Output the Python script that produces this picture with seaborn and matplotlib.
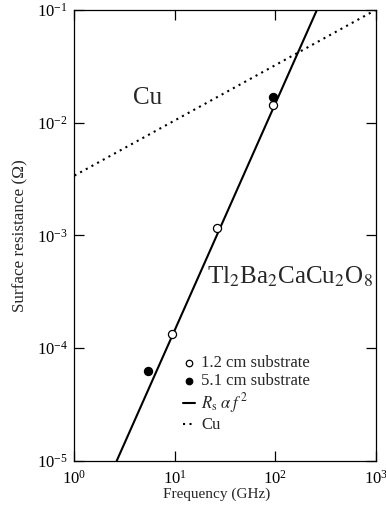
import numpy as np
import pandas as pd
import matplotlib
matplotlib.use("Agg")
import matplotlib.pyplot as plt
import seaborn as sns
from matplotlib.ticker import NullLocator

# ---- data ----
open_freq = [9.45, 26.5, 94.6]          # GHz, 1.2 cm substrate
open_rs = [1.33e-4, 1.17e-3, 1.43e-2]   # ohm
filled_freq = [5.37, 94.6]              # GHz, 5.1 cm substrate
filled_rs = [6.3e-5, 1.70e-2]
fit_freq = [2.63, 260.0]                # Rs ~ f^2 line end points
fit_rs = [1e-5, 1e-1]
cu_freq = [1.0, 1000.0]                 # Cu line end points
cu_rs = [3.4e-3, 0.1]

x_ticks = [1, 10, 100, 1000]
y_ticks = [1e-5, 1e-4, 1e-3, 1e-2, 1e-1]

sns.set_style("ticks")
plt.rcParams["font.family"] = ["Liberation Serif", "DejaVu Serif"]
plt.rcParams["mathtext.fontset"] = "stix"

fig = plt.figure(figsize=(3.86, 5.15), dpi=100)
ax = fig.add_axes([0.193, 0.1049, 0.780, 0.8757])

df_fit = pd.DataFrame({"f": fit_freq, "rs": fit_rs})
df_cu = pd.DataFrame({"f": cu_freq, "rs": cu_rs})
df_open = pd.DataFrame({"f": open_freq, "rs": open_rs})
df_filled = pd.DataFrame({"f": filled_freq, "rs": filled_rs})

fit_label = r"$R_{\mathrm{s}}\;\alpha\;f^{\,2}$"
sns.lineplot(data=df_fit, x="f", y="rs", ax=ax, color="black", lw=1.5,
             label=fit_label, zorder=2)
sns.lineplot(data=df_cu, x="f", y="rs", ax=ax, color="black", lw=1.5,
             linestyle=(0, (1, 2.1)), label="Cu", zorder=2)
sns.scatterplot(data=df_open, x="f", y="rs", ax=ax, marker="o", s=34,
                facecolor="white", edgecolor="black", linewidth=0.9,
                label="1.2 cm substrate", zorder=3)
sns.scatterplot(data=df_filled, x="f", y="rs", ax=ax, marker="o", s=34,
                color="black", edgecolor="black", linewidth=0.9,
                label="5.1 cm substrate", zorder=3)

ax.set_xscale("log")
ax.set_yscale("log")
ax.set_xlim(1, 1000)
ax.set_ylim(1e-5, 1e-1)
ax.set_xticks(x_ticks)
ax.set_yticks(y_ticks)
ax.xaxis.set_minor_locator(NullLocator())
ax.yaxis.set_minor_locator(NullLocator())
ax.tick_params(which="major", direction="in", length=7, width=0.9,
               top=True, right=True, labelsize=12, colors="black")
ax.tick_params(axis="y", pad=5)
ax.tick_params(axis="x", pad=6)
for sp in ax.spines.values():
    sp.set_linewidth(0.9)
    sp.set_color("black")

ax.set_xlabel("Frequency (GHz)", fontsize=11, labelpad=2)
ax.xaxis.set_label_coords(0.472, -0.058)
ax.set_ylabel("Surface resistance (\u03a9)", fontsize=12.3, labelpad=6)

ax.text(3.83, 1.46e-2, "Cu", fontsize=18, ha="left", va="baseline")
ax.text(20.9, 3.77e-4, r"Tl$_2$Ba$_2$CaCu$_2$O$_8$", fontsize=18,
        ha="left", va="baseline")

handles, labels = ax.get_legend_handles_labels()
order = [labels.index(l) for l in ["1.2 cm substrate", "5.1 cm substrate",
                                   fit_label, "Cu"]]
leg = ax.legend([handles[i] for i in order], [labels[i] for i in order],
                loc="upper left", bbox_to_anchor=(0.36, 0.234),
                frameon=False, fontsize=12, handlelength=0.75,
                handletextpad=0.35, labelspacing=0.12, borderpad=0,
                borderaxespad=0, markerscale=0.8)

fig.savefig("out.png", dpi=100)
